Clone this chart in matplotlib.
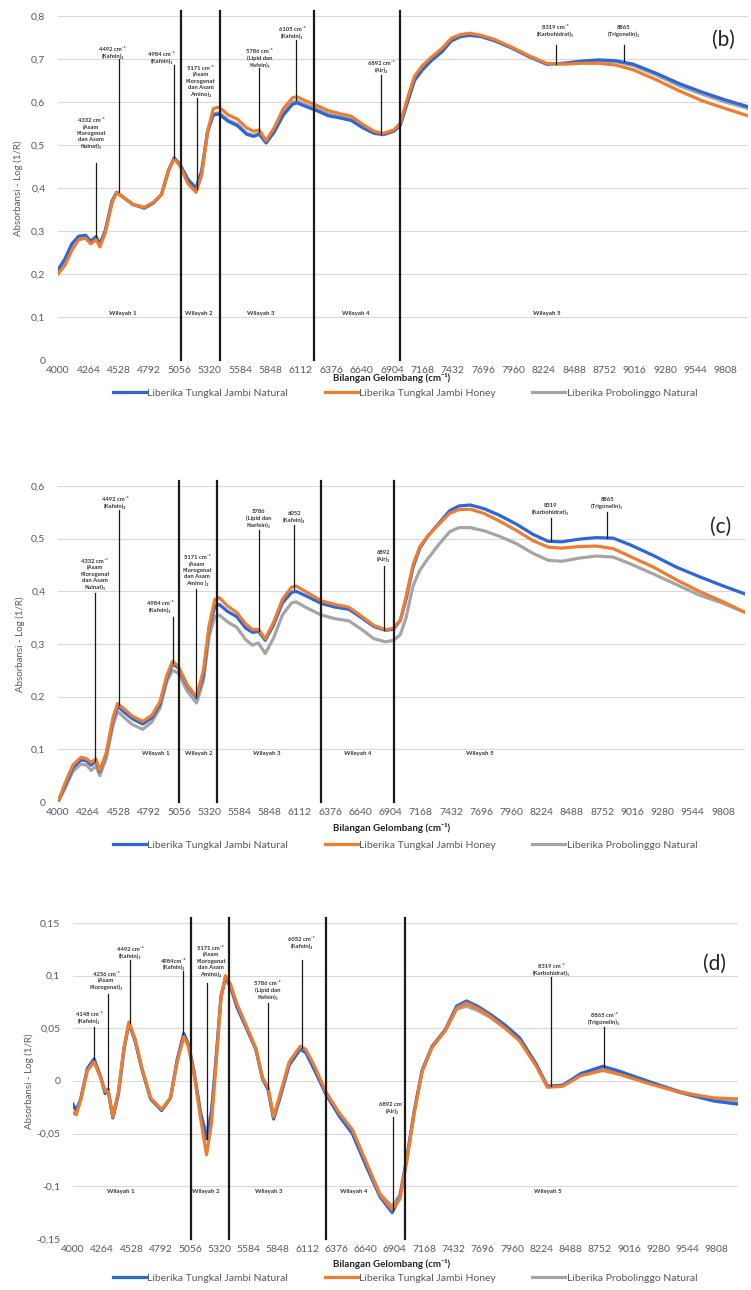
import numpy as np
import matplotlib
matplotlib.use("Agg")
import matplotlib.pyplot as plt
from matplotlib.ticker import FuncFormatter

plt.rcParams['font.family'] = ['Lato', 'DejaVu Sans']

# ---------------- data (b) ----------------
wn_b = [4000, 4060, 4120, 4180, 4240, 4285, 4330, 4365, 4410, 4470, 4510, 4560, 4650, 4750,
        4830, 4900, 4960, 5010, 5060, 5130, 5200, 5250, 5300, 5350, 5400, 5480, 5560, 5640,
        5700, 5750, 5810, 5880, 5960, 6040, 6080, 6150, 6250, 6350, 6450, 6550, 6650, 6750,
        6830, 6920, 6975, 7040, 7100, 7170, 7250, 7340, 7420, 7500, 7580, 7680, 7800, 7950,
        8100, 8250, 8400, 8550, 8700, 8850, 9000, 9200, 9400, 9600, 9800, 10000]
blue_b = [0.21, 0.235, 0.27, 0.288, 0.29, 0.276, 0.287, 0.27, 0.3, 0.37, 0.39, 0.38, 0.362, 0.353,
          0.365, 0.385, 0.44, 0.47, 0.455, 0.42, 0.40, 0.44, 0.53, 0.57, 0.572, 0.555, 0.545, 0.525,
          0.52, 0.525, 0.505, 0.53, 0.57, 0.595, 0.598, 0.59, 0.58, 0.568, 0.563, 0.557, 0.54, 0.527,
          0.524, 0.532, 0.545, 0.6, 0.65, 0.675, 0.697, 0.717, 0.742, 0.752, 0.755, 0.752, 0.742, 0.725,
          0.705, 0.688, 0.69, 0.695, 0.698, 0.696, 0.688, 0.667, 0.643, 0.623, 0.605, 0.589]
orange_b = [0.20, 0.22, 0.255, 0.28, 0.283, 0.27, 0.28, 0.263, 0.295, 0.365, 0.39, 0.38, 0.362, 0.355,
            0.367, 0.385, 0.44, 0.468, 0.452, 0.41, 0.39, 0.43, 0.53, 0.585, 0.588, 0.57, 0.56, 0.54,
            0.532, 0.535, 0.51, 0.54, 0.585, 0.61, 0.612, 0.603, 0.592, 0.58, 0.573, 0.567, 0.548, 0.532,
            0.527, 0.535, 0.55, 0.61, 0.66, 0.685, 0.705, 0.725, 0.748, 0.757, 0.76, 0.755, 0.745, 0.727,
            0.707, 0.69, 0.688, 0.69, 0.69, 0.686, 0.675, 0.652, 0.626, 0.603, 0.585, 0.568]
gray_b = [0.205, 0.23, 0.265, 0.285, 0.288, 0.274, 0.285, 0.268, 0.298, 0.368, 0.39, 0.38, 0.362, 0.354,
          0.366, 0.385, 0.44, 0.47, 0.455, 0.418, 0.398, 0.44, 0.53, 0.572, 0.575, 0.558, 0.548, 0.528,
          0.522, 0.527, 0.505, 0.532, 0.575, 0.6, 0.602, 0.594, 0.584, 0.572, 0.566, 0.56, 0.543, 0.529,
          0.525, 0.533, 0.547, 0.603, 0.653, 0.678, 0.70, 0.72, 0.745, 0.754, 0.757, 0.753, 0.743, 0.725,
          0.705, 0.688, 0.69, 0.694, 0.696, 0.694, 0.685, 0.663, 0.638, 0.618, 0.60, 0.585]

regions_b = [5067, 5405, 6229, 6975]
ann_x_b = [4330, 4529, 5006, 5206, 5752, 6073, 6810, 8328, 8918]
ann_top_b = [0.458, 0.70, 0.686, 0.609, 0.68, 0.744, 0.663, 0.733, 0.733]
ann_bot_b = [0.285, 0.39, 0.47, 0.398, 0.53, 0.605, 0.525, 0.689, 0.695]
ann_tx_b = [4286, 4477, 4902, 5240, 5752, 6038, 6810, 8328, 8918]
ann_ty_b = [0.49, 0.70, 0.688, 0.612, 0.68, 0.746, 0.667, 0.752, 0.752]
ann_lab_b = ["4332 cm⁻¹\n(Asam\nKlorogenat\ndan Asam\nKuinat)₁",
             "4492 cm⁻¹\n(Kafein)₂",
             "4984 cm⁻¹\n(Kafein)₃",
             "5171 cm⁻¹\n(Asam\nKlorogenat\ndan Asam\nAmino)₂",
             "5786 cm⁻¹\n(Lipid dan\nKafein)₁",
             "6105 cm⁻¹\n(Kafein)₁",
             "6892 cm⁻¹\n(Air)₂",
             "8319 cm⁻¹\n(Karbohidrat)₁",
             "8865\n(Trigonelin)₁"]
wil_x_b = [4564, 5223, 5760, 6593, 8250]
wil_y_b = 0.109

# ---------------- data (c) ----------------
wn_c = [4000, 4060, 4130, 4200, 4250, 4290, 4330, 4365, 4420, 4480, 4520, 4570, 4650, 4740,
        4820, 4890, 4950, 5000, 5050, 5130, 5210, 5270, 5320, 5370, 5410, 5480, 5560, 5640,
        5700, 5750, 5810, 5880, 5960, 6040, 6080, 6160, 6300, 6420, 6540, 6650, 6760, 6860,
        6930, 6990, 7040, 7100, 7160, 7230, 7330, 7420, 7500, 7600, 7720, 7850, 8000, 8150,
        8280, 8400, 8550, 8700, 8850, 9000, 9200, 9400, 9600, 9800, 10000]
blue_c = [0.0, 0.03, 0.065, 0.08, 0.078, 0.07, 0.078, 0.058, 0.09, 0.155, 0.182, 0.172, 0.158, 0.148,
          0.16, 0.185, 0.235, 0.262, 0.255, 0.22, 0.198, 0.24, 0.33, 0.372, 0.375, 0.362, 0.352, 0.33,
          0.322, 0.324, 0.307, 0.335, 0.378, 0.398, 0.4, 0.392, 0.377, 0.37, 0.366, 0.35, 0.333, 0.326,
          0.328, 0.345, 0.385, 0.445, 0.482, 0.505, 0.53, 0.553, 0.562, 0.564, 0.557, 0.545, 0.528, 0.508,
          0.495, 0.494, 0.499, 0.502, 0.501, 0.488, 0.468, 0.446, 0.428, 0.411, 0.395]
orange_c = [0.0, 0.035, 0.07, 0.085, 0.082, 0.075, 0.082, 0.06, 0.092, 0.16, 0.187, 0.178, 0.163, 0.153,
            0.165, 0.19, 0.24, 0.267, 0.258, 0.222, 0.2, 0.25, 0.335, 0.385, 0.388, 0.372, 0.36, 0.338,
            0.327, 0.328, 0.31, 0.34, 0.385, 0.408, 0.41, 0.4, 0.382, 0.375, 0.37, 0.353, 0.335, 0.327,
            0.33, 0.345, 0.39, 0.45, 0.485, 0.505, 0.528, 0.548, 0.555, 0.556, 0.548, 0.534, 0.516, 0.496,
            0.484, 0.482, 0.485, 0.486, 0.481, 0.466, 0.446, 0.422, 0.40, 0.381, 0.36]
gray_c = [0.0, 0.025, 0.058, 0.072, 0.07, 0.06, 0.068, 0.05, 0.082, 0.145, 0.172, 0.162, 0.147, 0.138,
          0.152, 0.178, 0.228, 0.25, 0.245, 0.21, 0.188, 0.23, 0.315, 0.352, 0.355, 0.342, 0.332, 0.308,
          0.298, 0.302, 0.282, 0.31, 0.355, 0.378, 0.38, 0.37, 0.355, 0.348, 0.344, 0.328, 0.31, 0.304,
          0.307, 0.318, 0.35, 0.41, 0.44, 0.462, 0.49, 0.513, 0.521, 0.521, 0.515, 0.505, 0.491, 0.472,
          0.459, 0.457, 0.463, 0.467, 0.465, 0.452, 0.433, 0.413, 0.393, 0.378, 0.36]

regions_c = [5058, 5388, 6298, 6931]
ann_x_c = [4321, 4529, 5006, 5206, 5752, 6064, 6845, 8302, 8796]
ann_top_c = [0.397, 0.554, 0.351, 0.404, 0.517, 0.526, 0.448, 0.539, 0.551]
ann_bot_c = [0.078, 0.185, 0.263, 0.2, 0.325, 0.405, 0.327, 0.495, 0.502]
ann_tx_c = [4321, 4500, 4893, 5214, 5752, 6064, 6845, 8302, 8796]
ann_ty_c = [0.403, 0.556, 0.359, 0.41, 0.52, 0.53, 0.455, 0.545, 0.557]
ann_lab_c = ["4332 cm⁻¹\n(Asam\nKlorogenat\ndan Asam\nKuinat)₁",
             "4492 cm⁻¹\n(Kafein)₂",
             "4984 cm⁻¹\n(Kafein)₃",
             "5171 cm⁻¹\n(Asam\nKlorogenat\ndan Asam\nAmino )₂",
             "5786\n(Lipid dan\nKaefein)₁",
             "6052\n(Kafein)₂",
             "6892\n(Air)₂",
             "8319\n(Karbohidrat)₁",
             "8865\n(Trigonelin)₁"]
wil_x_c = [4850, 5232, 5821, 6619, 7686]
wil_y_c = 0.093

# ---------------- data (d) ----------------
wn_d = [4000, 4030, 4070, 4130, 4190, 4250, 4290, 4315, 4360, 4410, 4460, 4505, 4560, 4620,
        4700, 4800, 4880, 4940, 5000, 5040, 5090, 5150, 5205, 5250, 5290, 5335, 5375, 5420,
        5480, 5570, 5650, 5710, 5760, 5810, 5870, 5950, 6050, 6100, 6180, 6280, 6400, 6520,
        6650, 6770, 6880, 6950, 7010, 7080, 7150, 7240, 7360, 7460, 7550, 7650, 7770, 7900,
        8030, 8180, 8280, 8420, 8580, 8780, 8940, 9180, 9480, 9780, 10000]
blue_d = [-0.022, -0.028, -0.017, 0.012, 0.021, 0.004, -0.012, -0.008, -0.035, -0.012, 0.03, 0.055, 0.038, 0.012,
          -0.017, -0.028, -0.016, 0.02, 0.045, 0.035, 0.01, -0.03, -0.055, -0.03, 0.02, 0.08, 0.098, 0.09,
          0.07, 0.049, 0.03, 0.002, -0.008, -0.036, -0.015, 0.015, 0.03, 0.027, 0.01, -0.012, -0.033, -0.05,
          -0.082, -0.11, -0.125, -0.11, -0.075, -0.028, 0.01, 0.033, 0.049, 0.071, 0.076, 0.071, 0.063, 0.053,
          0.041, 0.016, -0.005, -0.004, 0.007, 0.014, 0.009, 0.0, -0.011, -0.019, -0.022]
orange_d = [-0.03, -0.032, -0.018, 0.01, 0.018, 0.003, -0.01, -0.008, -0.034, -0.01, 0.032, 0.056, 0.04, 0.013,
            -0.016, -0.027, -0.016, 0.018, 0.042, 0.033, 0.008, -0.035, -0.07, -0.04, 0.015, 0.078, 0.1, 0.092,
            0.073, 0.051, 0.031, 0.003, -0.006, -0.034, -0.012, 0.018, 0.033, 0.03, 0.014, -0.01, -0.03, -0.046,
            -0.078, -0.108, -0.122, -0.112, -0.077, -0.03, 0.009, 0.032, 0.048, 0.069, 0.074, 0.069, 0.061, 0.05,
            0.038, 0.014, -0.006, -0.005, 0.005, 0.01, 0.006, -0.002, -0.011, -0.016, -0.017]
gray_d = [-0.025, -0.028, -0.017, 0.011, 0.019, 0.003, -0.011, -0.008, -0.035, -0.011, 0.031, 0.055, 0.039, 0.012,
          -0.017, -0.028, -0.016, 0.02, 0.045, 0.035, 0.01, -0.03, -0.05, -0.028, 0.02, 0.08, 0.098, 0.09,
          0.07, 0.049, 0.03, 0.002, -0.008, -0.036, -0.014, 0.016, 0.031, 0.028, 0.012, -0.012, -0.032, -0.048,
          -0.08, -0.107, -0.119, -0.108, -0.074, -0.028, 0.01, 0.032, 0.048, 0.068, 0.071, 0.067, 0.06, 0.05,
          0.039, 0.015, -0.005, -0.004, 0.006, 0.012, 0.008, 0.0, -0.01, -0.017, -0.02]

regions_d = [5063, 5405, 6279, 7000]
ann_x_d = [4189, 4315, 4514, 4991, 5207, 5757, 6063, 6883, 8315, 8793]
ann_top_d = [0.051, 0.083, 0.115, 0.104, 0.093, 0.074, 0.115, -0.034, 0.099, 0.051]
ann_bot_d = [0.021, -0.008, 0.055, 0.045, -0.055, -0.008, 0.031, -0.122, -0.005, 0.013]
ann_tx_d = [4144, 4297, 4514, 4910, 5243, 5757, 6063, 6883, 8315, 8793]
ann_ty_d = [0.054, 0.086, 0.116, 0.105, 0.099, 0.077, 0.125, -0.031, 0.1, 0.053]
ann_lab_d = ["4148 cm⁻¹\n(Kafein)₁",
             "4256 cm⁻¹\n(Asam\nKlorogenat)₁",
             "4492 cm⁻¹\n(Kafein)₁",
             "4984cm⁻¹\n(Kafein)₂",
             "5171 cm⁻¹\n(Asam\nKlorogenat\ndan Asam\nAmino)₂",
             "5786 cm⁻¹\n(Lipid dan\nKafein)₁",
             "6052 cm⁻¹\n(Kafein)₂",
             "6892 cm⁻¹\n(Air)₂",
             "8319 cm⁻¹\n(Karbohidrat)₁",
             "8865 cm⁻¹\n(Trigonelin)₁"]
wil_x_d = [4432, 5198, 5766, 6532, 8279]
wil_y_d = -0.105

series_names = ["Liberika Tungkal Jambi Natural", "Liberika Tungkal Jambi Honey",
                "Liberika Probolinggo Natural"]
colors = ['#2f66d6', '#ed7d31', '#a5a5a5']
xticks = list(range(4000, 10000, 264))

TXT = '#595959'


def comma(v, pos):
    s = '%g' % round(v, 3)
    return s.replace('.', ',')


def draw_panel(ax, wn, ys, ylim, ystep, regions, ax_x, ax_top, ax_bot, ax_tx, ax_ty, ax_lab,
               wil_x, wil_y, tag):
    zs = [3, 4, 2]
    for y, c, name, z in zip(ys, colors, series_names, zs):
        ax.plot(wn, y, color=c, lw=2.3, label=name, zorder=z, solid_joinstyle='round')

    ax.set_xlim(4000, 10000)
    ax.set_ylim(*ylim)
    ax.set_yticks(np.arange(ylim[0], ylim[1] + ystep / 2, ystep))
    ax.yaxis.set_major_formatter(FuncFormatter(comma))
    ax.set_xticks(xticks)
    ax.set_xticklabels([str(t) for t in xticks])
    ax.tick_params(length=0, labelsize=7.5, labelcolor=TXT)
    ax.tick_params(axis='y', pad=9)
    ax.tick_params(axis='x', pad=4)
    ax.yaxis.grid(True, color='#d9d9d9', lw=0.8)
    ax.set_axisbelow(True)
    for s in ax.spines.values():
        s.set_visible(False)

    # batas wilayah
    for r in regions:
        ax.axvline(r, ymin=0, ymax=1.015, color='#1a1a1a', lw=1.6, clip_on=False, zorder=6)

    # anotasi puncak
    for x, t, b, tx, ty, lab in zip(ax_x, ax_top, ax_bot, ax_tx, ax_ty, ax_lab):
        ax.plot([x, x], [b, t], color='#1a1a1a', lw=0.9, zorder=5)
        ax.text(tx, ty, lab, ha='center', va='bottom', fontsize=4.2, fontweight='bold',
                color='#333333', linespacing=1.3, zorder=7)

    for i, x in enumerate(wil_x):
        ax.text(x, wil_y, 'Wilayah %d' % (i + 1), ha='center', va='center', fontsize=4.4,
                fontweight='bold', color='#333333')

    ax.text(0.965, 0.93 if tag == '(b)' else 0.87, tag, transform=ax.transAxes, ha='center',
            va='center', fontsize=15, color='#222222')


fig = plt.figure(figsize=(7.51, 12.90), dpi=100)
W, H = 751.0, 1290.0

panels = [
    dict(box=(58, 16, 748, 360), wn=wn_b, ys=[blue_b, orange_b, gray_b], ylim=(0, 0.8), step=0.1,
         reg=regions_b, ann=(ann_x_b, ann_top_b, ann_bot_b, ann_tx_b, ann_ty_b, ann_lab_b),
         wil=(wil_x_b, wil_y_b), tag='(b)', lab_y=(378, 393), yl_x=18),
    dict(box=(58, 486, 745, 802), wn=wn_c, ys=[blue_c, orange_c, gray_c], ylim=(0, 0.6), step=0.1,
         reg=regions_c, ann=(ann_x_c, ann_top_c, ann_bot_c, ann_tx_c, ann_ty_c, ann_lab_c),
         wil=(wil_x_c, wil_y_c), tag='(c)', lab_y=(828, 845), yl_x=20),
    dict(box=(73, 923, 738, 1239), wn=wn_d, ys=[blue_d, orange_d, gray_d], ylim=(-0.15, 0.15), step=0.05,
         reg=regions_d, ann=(ann_x_d, ann_top_d, ann_bot_d, ann_tx_d, ann_ty_d, ann_lab_d),
         wil=(wil_x_d, wil_y_d), tag='(d)', lab_y=(1264, 1278), yl_x=29),
]

for p in panels:
    x0, y0, x1, y1 = p['box']
    ax = fig.add_axes([x0 / W, 1 - y1 / H, (x1 - x0) / W, (y1 - y0) / H])
    draw_panel(ax, p['wn'], p['ys'], p['ylim'], p['step'], p['reg'], *p['ann'], *p['wil'], p['tag'])
    xl_y, lg_y = p['lab_y']
    fig.text(392 / W, 1 - xl_y / H, 'Bilangan Gelombang (cm⁻¹)', ha='center', va='center',
             fontsize=7, fontweight='bold', color='#222222')
    fig.text(p['yl_x'] / W, 1 - (y0 + y1) / 2 / H, 'Absorbansi - Log (1/R)', rotation=90, ha='center',
             va='center', fontsize=7, color=TXT)
    fig.legend(*ax.get_legend_handles_labels(), loc='center', bbox_to_anchor=(405 / W, 1 - lg_y / H),
               ncol=3, frameon=False, fontsize=7.5, labelcolor=TXT, handlelength=3.2,
               handletextpad=0.1, columnspacing=3.5)

fig.savefig('out.png', dpi=100)
